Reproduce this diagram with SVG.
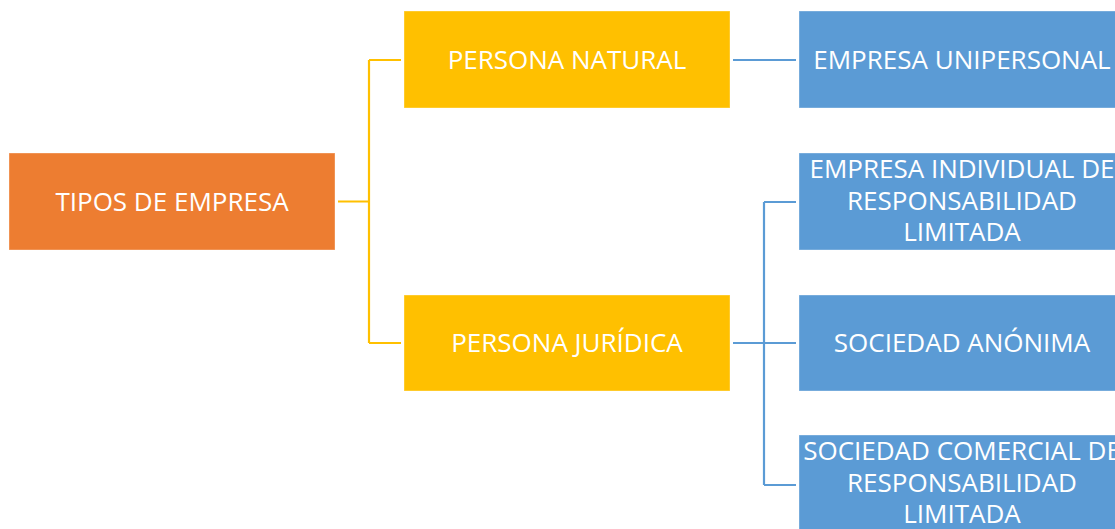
<svg xmlns="http://www.w3.org/2000/svg" width="1115" height="529" viewBox="0 0 1115 529">
<style>
.box{stroke:#ffffff;stroke-opacity:0.35;stroke-width:1}
.root{fill:#ED7D31}
.mid{fill:#FFC000}
.leaf{fill:#5B9BD5}
.t{font-family:"Open Sans","Liberation Sans",sans-serif;font-size:26px;fill:#ffffff;text-anchor:middle}
.cy{fill:none;stroke:#FFC000;stroke-width:2.2}
.cb{fill:none;stroke:#5B9BD5;stroke-width:2.2}
</style>
<rect width="1115" height="529" fill="#ffffff"/>
<g id="connectors">
<path class="cy" d="M338 201.5 H369 M369 60 V343 M369 60 H401 M369 343 H401"/>
<path class="cb" d="M733 60 H796"/>
<path class="cb" d="M733 343 H796 M764 202 V485 M764 202 H796 M764 485 H796"/>
</g>
<g id="tipos">
<rect class="box root" x="9" y="153" width="326" height="97"/>
<text class="t" x="172" y="211">TIPOS DE EMPRESA</text>
</g>
<g id="natural">
<rect class="box mid" x="404" y="11" width="326" height="97"/>
<text class="t" x="567" y="69">PERSONA NATURAL</text>
</g>
<g id="juridica">
<rect class="box mid" x="404" y="295" width="326" height="96"/>
<text class="t" x="567" y="352">PERSONA JURÍDICA</text>
</g>
<g id="unipersonal">
<rect class="box leaf" x="799" y="11" width="326" height="97"/>
<text class="t" x="962" y="69">EMPRESA UNIPERSONAL</text>
</g>
<g id="eirl">
<rect class="box leaf" x="799" y="153" width="326" height="97"/>
<text class="t" x="962" y="178">EMPRESA INDIVIDUAL DE</text>
<text class="t" x="962" y="210">RESPONSABILIDAD</text>
<text class="t" x="962" y="241">LIMITADA</text>
</g>
<g id="anonima">
<rect class="box leaf" x="799" y="295" width="326" height="96"/>
<text class="t" x="962" y="352">SOCIEDAD ANÓNIMA</text>
</g>
<g id="scrl">
<rect class="box leaf" x="799" y="435" width="326" height="97"/>
<text class="t" x="962" y="460">SOCIEDAD COMERCIAL DE</text>
<text class="t" x="962" y="492">RESPONSABILIDAD</text>
<text class="t" x="962" y="523">LIMITADA</text>
</g>
</svg>
